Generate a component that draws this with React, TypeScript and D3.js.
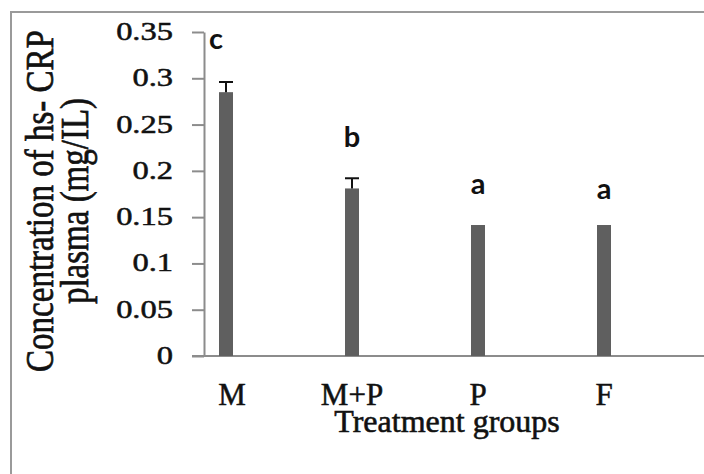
import React, { useEffect, useRef } from "react";
import * as d3 from "d3";

const groups = ["M", "M+P", "P", "F"];
const means = [0.285, 0.181, 0.1415, 0.1415];
const errors = [0.011, 0.011, 0, 0];
const letters = ["c", "b", "a", "a"];
const yTicks = [0, 0.05, 0.1, 0.15, 0.2, 0.25, 0.3, 0.35];

const FONT = "'Liberation Serif', 'Times New Roman', serif";

function BarChart() {
  const svgRef: any = useRef(null);

  useEffect(() => {
    draw();
  }, []);

  const draw = () => {
    const svg = d3.select(svgRef.current);
    svg.selectAll("*").remove();

    const x = d3.scalePoint().domain(groups).range([226, 604]);
    const y = d3.scaleLinear().domain([0, 0.35]).range([356, 32]);
    const axisX = 204;
    const barW = 14;

    // outer frame (right/bottom edges fall outside the picture)
    svg
      .append("path")
      .attr("d", "M11,474 V12 H704")
      .attr("fill", "none")
      .attr("stroke", "#9a9a9a")
      .attr("stroke-width", 2);

    // y axis
    const yAxis = svg
      .append("g")
      .attr("transform", `translate(${axisX},0)`)
      .call(d3.axisLeft(y).tickValues(yTicks).tickSize(12).tickSizeOuter(0).tickFormat("" as any));
    yAxis.selectAll("line, path").attr("stroke", "#8c8c8c").attr("stroke-width", 2);

    // y tick labels, stretched like the original bitmap
    svg
      .append("g")
      .selectAll("text")
      .data(yTicks)
      .join("text")
      .attr("transform", (d) => `translate(173,${y(d) + 8}) scale(1.3,1)`)
      .attr("text-anchor", "end")
      .attr("font-family", FONT)
      .attr("font-size", 25)
      .attr("fill", "#111")
      .attr("stroke", "#111")
      .attr("stroke-width", 0.5)
      .text((d) => d3.format("")(d));

    // x axis line
    svg
      .append("line")
      .attr("x1", axisX - 12)
      .attr("x2", 704)
      .attr("y1", y(0))
      .attr("y2", y(0))
      .attr("stroke", "#8c8c8c")
      .attr("stroke-width", 2);

    // bars
    svg
      .append("g")
      .selectAll("rect")
      .data(means)
      .join("rect")
      .attr("x", (d, i) => (x(groups[i]) as number) - barW / 2)
      .attr("y", (d) => y(d))
      .attr("width", barW)
      .attr("height", (d) => y(0) - y(d))
      .attr("fill", "#5f5f5f");

    // error bars
    const err = svg.append("g").attr("stroke", "#111").attr("stroke-width", 2);
    means.forEach((m, i) => {
      if (!errors[i]) return;
      const cx = x(groups[i]) as number;
      err
        .append("line")
        .attr("x1", cx)
        .attr("x2", cx)
        .attr("y1", y(m))
        .attr("y2", y(m + errors[i]));
      err
        .append("line")
        .attr("x1", cx - 7)
        .attr("x2", cx + 7)
        .attr("y1", y(m + errors[i]))
        .attr("y2", y(m + errors[i]));
    });

    // significance letters (sans, bold in the original)
    svg
      .append("g")
      .selectAll("text")
      .data(letters)
      .join("text")
      .attr("x", (d, i) => (x(groups[i]) as number) - (i === 0 ? 10 : 0))
      .attr("y", (d, i) => y(means[i] + errors[i]) - (i === 0 ? 33 : 31) + (i === 3 ? 5 : 0))
      .attr("text-anchor", "middle")
      .attr("font-family", "Lato, 'Open Sans', sans-serif")
      .attr("font-size", 29)
      .attr("font-weight", "bold")
      .attr("fill", "#111")
      .text((d) => d);

    // category labels
    svg
      .append("g")
      .selectAll("text")
      .data(groups)
      .join("text")
      .attr("x", (d, i) => (x(d) as number) + (i === 0 ? 6 : 0))
      .attr("y", 405)
      .attr("text-anchor", "middle")
      .attr("font-family", FONT)
      .attr("font-size", 31)
      .attr("fill", "#111")
      .attr("stroke", "#111")
      .attr("stroke-width", 0.5)
      .text((d) => d);

    // x title
    svg
      .append("text")
      .attr("x", 447)
      .attr("y", 432)
      .attr("text-anchor", "middle")
      .attr("font-family", FONT)
      .attr("font-size", 32)
      .attr("fill", "#111")
      .attr("stroke", "#111")
      .attr("stroke-width", 0.6)
      .text("Treatment groups");

    // y title, two lines
    const yTitle = [
      { t: "Concentration of hs- CRP", bx: 53 },
      { t: "plasma (mg/IL)", bx: 88 },
    ];
    svg
      .append("g")
      .selectAll("text")
      .data(yTitle)
      .join("text")
      .attr("transform", (d) => `translate(${d.bx},201) scale(1.2,1) rotate(-90)`)
      .attr("text-anchor", "middle")
      .attr("font-family", FONT)
      .attr("font-size", 33)
      .attr("fill", "#111")
      .attr("stroke", "#111")
      .attr("stroke-width", 0.6)
      .text((d) => d.t);
  };

  return (
    <svg
      ref={svgRef}
      width={704}
      height={474}
      style={{ position: "absolute", left: 0, top: 0, background: "#fff" }}
    />
  );
}

export default function App() {
  return <BarChart />;
}
